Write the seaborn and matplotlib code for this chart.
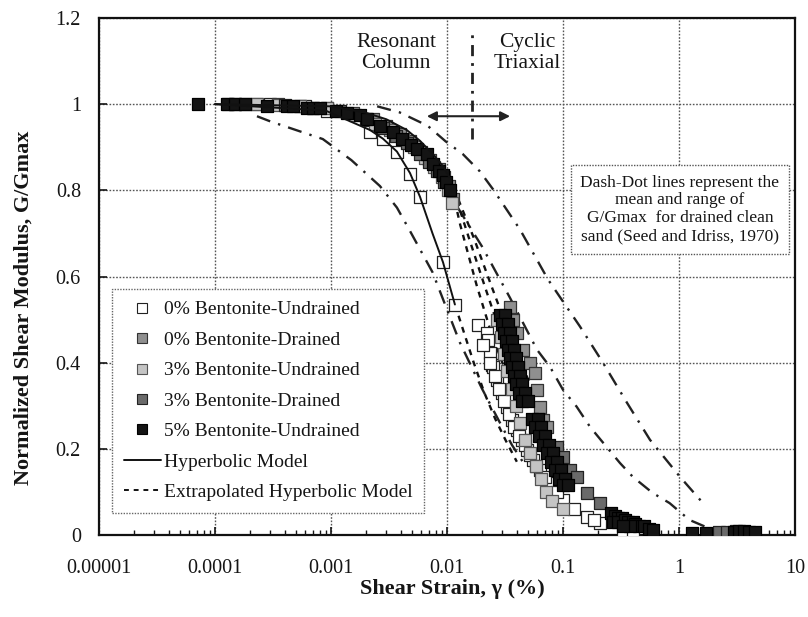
import numpy as np
import pandas as pd
import matplotlib
matplotlib.use("Agg")
import matplotlib.pyplot as plt
from matplotlib.lines import Line2D
import seaborn as sns

sns.set_theme(style="white")
plt.rcParams['font.family'] = ['Liberation Serif', 'DejaVu Serif']

# ---------------- data ----------------
# 0% Bentonite - Undrained (open squares)
u0_x = [0.00015, 0.0003, 0.0006, 0.000924, 0.00217, 0.00281, 0.00371, 0.0048, 0.00585, 0.00924, 0.01172,
        0.0185, 0.02212, 0.02256, 0.02348, 0.02443, 0.02492, 0.02698, 0.02979, 0.0329, 0.03634, 0.04012,
        0.04433, 0.04895, 0.05513, 0.06335, 0.07725, 0.1, 0.161, 0.2084, 0.3562, 0.33, 0.40,
        0.0205, 0.0235, 0.0258, 0.028, 0.031, 0.0345, 0.038, 0.042, 0.047, 0.052, 0.059, 0.07, 0.088, 0.125, 0.185]
u0_y = [1.0, 1.0, 0.995, 0.985, 0.935, 0.919, 0.888, 0.837, 0.784, 0.633, 0.535,
        0.488, 0.47, 0.453, 0.423, 0.395, 0.39, 0.36, 0.33, 0.298, 0.267, 0.244,
        0.221, 0.198, 0.174, 0.151, 0.121, 0.081, 0.042, 0.028, 0.003, 0.01, 0.002,
        0.44, 0.40, 0.37, 0.34, 0.31, 0.28, 0.25, 0.23, 0.21, 0.185, 0.16, 0.135, 0.1, 0.06, 0.035]

# 0% Bentonite - Drained (medium grey)
d0_x = [0.00013, 0.00023, 0.00035, 0.00054, 0.00092, 0.00155, 0.0023, 0.003, 0.0039, 0.0048, 0.006, 0.0072,
        0.0085, 0.0095, 0.0105, 0.0113,
        0.03493, 0.03707, 0.04012, 0.0452, 0.05193, 0.05736, 0.05969, 0.06335, 0.06722, 0.0728]
d0_y = [1.0, 1.0, 1.0, 0.995, 0.99, 0.98, 0.965, 0.95, 0.93, 0.915, 0.89, 0.87,
        0.85, 0.83, 0.81, 0.78,
        0.53, 0.50, 0.47, 0.43, 0.40, 0.377, 0.337, 0.298, 0.267, 0.251]

# 3% Bentonite - Undrained (light grey)
u3_x = [0.00023, 0.00035, 0.00054, 0.00092, 0.0016, 0.0024, 0.0032, 0.0042, 0.0052, 0.0064, 0.0078, 0.009,
        0.0103, 0.011,
        0.027, 0.029, 0.031, 0.033, 0.036, 0.039, 0.043, 0.047, 0.052, 0.058, 0.064, 0.072, 0.08, 0.1]
u3_y = [1.0, 0.998, 0.995, 0.99, 0.975, 0.955, 0.94, 0.92, 0.9, 0.875, 0.855, 0.83,
        0.80, 0.77,
        0.50, 0.46, 0.42, 0.38, 0.34, 0.30, 0.26, 0.22, 0.19, 0.16, 0.13, 0.10, 0.08, 0.06]

# 3% Bentonite - Drained (dark grey)
d3_x = [0.00018, 0.0004, 0.0007, 0.0012, 0.002, 0.0028, 0.0036, 0.0045, 0.0058, 0.007, 0.0082, 0.0095,
        0.08877, 0.1, 0.1149, 0.132, 0.161, 0.2084, 2.2, 2.6, 3.1]
d3_y = [1.0, 0.998, 0.99, 0.985, 0.965, 0.945, 0.925, 0.91, 0.885, 0.865, 0.845, 0.82,
        0.205, 0.181, 0.151, 0.135, 0.098, 0.074, 0.006, 0.008, 0.01]

# 5% Bentonite - Undrained (black)
u5_x = [7.1e-5, 0.000127, 0.00015, 0.00018, 0.00028, 0.00042, 0.00047, 0.00062, 0.0007, 0.0008, 0.0011,
        0.00137, 0.00178, 0.00205, 0.00265, 0.0034, 0.0041, 0.0049, 0.0055, 0.0067, 0.0076, 0.0085,
        0.0093, 0.0099, 0.0106,
        0.02863, 0.03162, 0.02979, 0.03357, 0.03101, 0.03493, 0.03227, 0.03634, 0.03357, 0.03782,
        0.03493, 0.03935, 0.03634, 0.04094, 0.03782, 0.04259, 0.03935, 0.04433, 0.04176, 0.04704,
        0.04433, 0.04993,
        0.05405, 0.06089, 0.05736, 0.06462, 0.06211, 0.06994, 0.06722, 0.07574, 0.0728, 0.08199,
        0.0788, 0.08877, 0.08531, 0.09611, 0.09237, 0.104, 0.1, 0.1104,
        0.26, 0.28, 0.30, 0.32, 0.27, 0.30, 0.34, 0.36, 0.40, 0.42, 0.45, 0.50, 0.55, 0.60, 0.38, 0.33,
        3.0, 3.3, 3.6, 4.0, 4.5, 1.3, 1.7]
u5_y = [1.0, 1.0, 1.0, 1.0, 0.995, 0.995, 0.995, 0.99, 0.99, 0.99, 0.985,
        0.98, 0.975, 0.965, 0.95, 0.935, 0.92, 0.905, 0.895, 0.885, 0.86, 0.845,
        0.835, 0.82, 0.80,
        0.51, 0.51, 0.49, 0.49, 0.47, 0.47, 0.45, 0.45, 0.43, 0.43,
        0.41, 0.41, 0.39, 0.39, 0.37, 0.37, 0.35, 0.35, 0.33, 0.33,
        0.31, 0.31,
        0.27, 0.27, 0.25, 0.25, 0.23, 0.23, 0.21, 0.21, 0.19, 0.19,
        0.17, 0.17, 0.15, 0.15, 0.13, 0.13, 0.115, 0.115,
        0.05, 0.045, 0.04, 0.04, 0.03, 0.03, 0.035, 0.03, 0.03, 0.025, 0.02, 0.02, 0.015, 0.012, 0.02, 0.02,
        0.008, 0.01, 0.01, 0.008, 0.006, 0.004, 0.004]

# Hyperbolic model (solid) lines
hyp_a_x = [0.0001, 0.001, 0.002, 0.003, 0.0045, 0.00585, 0.0075, 0.0093, 0.0105]
hyp_a_y = [1.0, 0.995, 0.98, 0.965, 0.94, 0.915, 0.885, 0.855, 0.83]
hyp_b_x = [0.0001, 0.0009, 0.00217, 0.0028, 0.0037, 0.0048, 0.00585, 0.0075, 0.00924, 0.0117]
hyp_b_y = [1.0, 0.985, 0.94, 0.92, 0.89, 0.84, 0.785, 0.70, 0.633, 0.535]

# Extrapolated hyperbolic model (dashed) lines
ext0_x = [0.0117, 0.014, 0.017, 0.021, 0.026, 0.032, 0.04]
ext0_y = [0.535, 0.47, 0.40, 0.33, 0.27, 0.22, 0.17]
ext1_x = [0.0105, 0.013, 0.018, 0.024, 0.03, 0.036]
ext1_y = [0.83, 0.72, 0.58, 0.47, 0.40, 0.34]
ext2_x = [0.0105, 0.015, 0.021, 0.028, 0.036, 0.044]
ext2_y = [0.83, 0.70, 0.58, 0.48, 0.40, 0.34]
ext3_x = [0.0105, 0.017, 0.024, 0.032, 0.042, 0.052]
ext3_y = [0.83, 0.69, 0.58, 0.49, 0.41, 0.35]

# Seed & Idriss (1970) range (dash-dot)
sil_x = [0.00023, 0.0003, 0.00085, 0.0015, 0.00264, 0.0037, 0.0047, 0.0075, 0.0129, 0.02, 0.03, 0.0363, 0.045]
sil_y = [0.972, 0.96, 0.919, 0.87, 0.81, 0.76, 0.71, 0.61, 0.447, 0.34, 0.25, 0.209, 0.17]
sim_x = [0.0005, 0.002, 0.005, 0.01, 0.02, 0.035, 0.0597, 0.0774, 0.1, 0.131, 0.171, 0.222, 0.31, 0.40, 0.59,
         0.83, 1.23, 1.95]
sim_y = [0.995, 0.96, 0.89, 0.80, 0.67, 0.55, 0.43, 0.39, 0.337, 0.298, 0.251, 0.214, 0.167, 0.135, 0.098,
         0.074, 0.035, 0.012]
siu_x = [0.0025, 0.0039, 0.0068, 0.0097, 0.0137, 0.0192, 0.025, 0.0426, 0.0743, 0.14, 0.221, 0.356, 0.562,
         1.02, 1.61]
siu_y = [0.995, 0.981, 0.95, 0.914, 0.884, 0.844, 0.802, 0.709, 0.593, 0.484, 0.40, 0.307, 0.221, 0.135,
         0.074]

# test-boundary line and arrow
rc_ct_x = [0.0164, 0.0164]
rc_ct_y = [0.92, 1.175]
arrow_x = [0.0067, 0.035]
arrow_y = 0.972

x_ticks = [0.00001, 0.0001, 0.001, 0.01, 0.1, 1, 10]
x_tick_labels = ["0.00001", "0.0001", "0.001", "0.01", "0.1", "1", "10"]
y_ticks = [0, 0.2, 0.4, 0.6, 0.8, 1.0, 1.2]
y_tick_labels = ["0", "0.2", "0.4", "0.6", "0.8", "1", "1.2"]

labels = ["0% Bentonite-Undrained", "0% Bentonite-Drained", "3% Bentonite-Undrained",
          "3% Bentonite-Drained", "5% Bentonite-Undrained"]
face_colors = ["white", "#8f8f8f", "#c4c4c4", "#6a6a6a", "#141414"]
edge_colors = ["#222222", "#333333", "#555555", "#222222", "#000000"]

TXT = "#151515"

# ---------------- figure ----------------
fig = plt.figure(figsize=(8.08, 6.17), dpi=100)
ax = fig.add_axes([99 / 808, 1 - 535 / 617, 696 / 808, 517 / 617])
ax.set_xscale("log")
ax.set_xlim(1e-5, 10)
ax.set_ylim(0, 1.2)

ax.grid(True, which="major", color="#555555", linestyle=(0, (1.2, 1.2)), linewidth=1.0)
ax.set_axisbelow(True)

dashdot = (0, (6, 3.5, 1, 3.5))
for xs, ys in [(sil_x, sil_y), (sim_x, sim_y), (siu_x, siu_y)]:
    sns.lineplot(x=xs, y=ys, ax=ax, color="#222222", linewidth=1.7, linestyle=dashdot,
                 sort=False, estimator=None, zorder=2)

for xs, ys in [(ext0_x, ext0_y), (ext1_x, ext1_y), (ext2_x, ext2_y), (ext3_x, ext3_y)]:
    sns.lineplot(x=xs, y=ys, ax=ax, color="#111111", linewidth=1.7, linestyle=(0, (2.5, 2.5)),
                 sort=False, estimator=None, zorder=2)

series = [(u0_x, u0_y), (d0_x, d0_y), (u3_x, u3_y), (d3_x, d3_y), (u5_x, u5_y)]
for (xs, ys), fc, ec in zip(series, face_colors, edge_colors):
    sns.scatterplot(x=xs, y=ys, ax=ax, marker="s", s=78, color=fc, edgecolor=ec,
                    linewidth=0.9, zorder=3, legend=False)

for xs, ys in [(hyp_a_x, hyp_a_y), (hyp_b_x, hyp_b_y)]:
    sns.lineplot(x=xs, y=ys, ax=ax, color="#111111", linewidth=1.4, sort=False,
                 estimator=None, zorder=4)

sns.lineplot(x=rc_ct_x, y=rc_ct_y, ax=ax, color="#222222", linewidth=2.0,
             linestyle=(0, (4, 2.5, 1, 2.5)), sort=False, estimator=None, zorder=2)
ax.annotate("", xy=(arrow_x[1], arrow_y), xytext=(arrow_x[0], arrow_y),
            arrowprops=dict(arrowstyle="<|-|>", color="#222222", lw=1.5,
                            mutation_scale=14, shrinkA=0, shrinkB=0), zorder=5)

ax.text(0.00363, 1.118, "Resonant\nColumn", ha="center", va="center", fontsize=15.5,
        color=TXT, linespacing=1.15)
ax.text(0.049, 1.118, "Cyclic\nTriaxial", ha="center", va="center", fontsize=15.5,
        color=TXT, linespacing=1.15)

ax.text(1.02, 0.756, "Dash-Dot lines represent the\nmean and range of\nG/Gmax  for drained clean\n"
        "sand (Seed and Idriss, 1970)", ha="center", va="center", fontsize=12.5,
        color=TXT, linespacing=1.15,
        bbox=dict(boxstyle="square,pad=0.55", facecolor="white", edgecolor="#555555",
                  linestyle=(0, (1, 1)), linewidth=1.0), zorder=6)

# legend
handles = []
for lab, fc, ec in zip(labels, face_colors, edge_colors):
    handles.append(Line2D([], [], linestyle="none", marker="s", markersize=7,
                          markerfacecolor=fc, markeredgecolor=ec, markeredgewidth=0.8, label=lab))
handles.append(Line2D([], [], color="#111111", linewidth=1.4, label="Hyperbolic Model"))
handles.append(Line2D([], [], color="#111111", linewidth=1.4, linestyle=(0, (2.5, 2.5)),
                      label="Extrapolated Hyperbolic Model"))
leg = ax.legend(handles=handles, loc="lower left", bbox_to_anchor=(0.019, 0.043),
                borderaxespad=0, fontsize=14, frameon=True, fancybox=False,
                handlelength=1.9, handletextpad=0.15, labelspacing=0.66, borderpad=0.6)
fr = leg.get_frame()
fr.set_edgecolor("#666666")
fr.set_linestyle((0, (1, 1)))
fr.set_linewidth(1.0)
fr.set_facecolor("white")
fr.set_alpha(1.0)
for t in leg.get_texts():
    t.set_color(TXT)
leg.set_zorder(7)

# axes styling
ax.set_xticks(x_ticks)
ax.set_xticklabels(x_tick_labels)
ax.set_yticks(y_ticks)
ax.set_yticklabels(y_tick_labels)
ax.tick_params(axis="both", which="major", direction="in", length=6, width=1.2,
               labelsize=14.5, colors=TXT, bottom=True, left=True)
ax.tick_params(axis="x", which="major", pad=17)
ax.tick_params(axis="y", which="major", pad=13)
ax.xaxis.set_minor_locator(matplotlib.ticker.LogLocator(base=10, subs=np.arange(2, 10)))
ax.tick_params(axis="x", which="minor", direction="in", length=3.5, width=1.0, bottom=True,
               colors=TXT)
ax.xaxis.set_minor_formatter(matplotlib.ticker.NullFormatter())
for sp in ax.spines.values():
    sp.set_color("#111111")
    sp.set_linewidth(1.6)

ax.set_xlabel("Shear Strain, γ (%)", fontsize=16, fontweight="bold", color=TXT)
ax.set_ylabel("Normalized Shear Modulus, G/Gmax", fontsize=16, fontweight="bold", color=TXT)
ax.xaxis.set_label_coords(0.508, -0.105)
ax.xaxis.label.set_va("center")
ax.yaxis.set_label_coords(-0.109, 0.44)
ax.yaxis.label.set_va("center")

fig.savefig("out.png", dpi=100, facecolor="white")
